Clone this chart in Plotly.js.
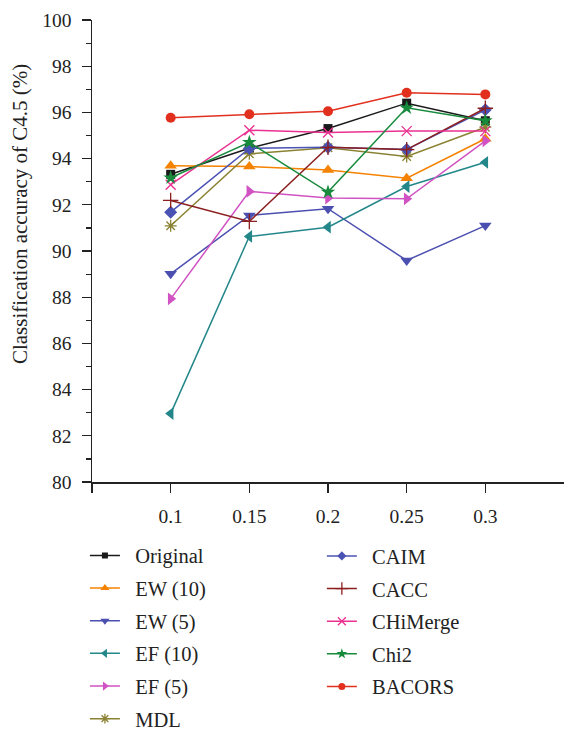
<!DOCTYPE html>
<html>
<head>
<meta charset="utf-8">
<script src="https://cdn.plot.ly/plotly-3.0.1.min.js"></script>
<style>html,body{margin:0;padding:0;background:#fff;}#chart{width:564px;height:733px;}</style>
</head>
<body>
<div id="chart"></div>
<script>
const thresholds = [0.1, 0.15, 0.2, 0.25, 0.3];
const seriesNames = ["Original", "EW (10)", "EW (5)", "EF (10)", "EF (5)", "MDL", "CAIM", "CACC", "CHiMerge", "Chi2", "BACORS"];
const original = [93.32, 94.45, 95.30, 96.40, 95.64];
const ew10 = [93.69, 93.66, 93.51, 93.15, 94.86];
const ew5 = [89.01, 91.54, 91.83, 89.59, 91.10];
const ef10 = [82.96, 90.63, 91.03, 92.79, 93.84];
const ef5 = [87.93, 92.58, 92.29, 92.26, 94.77];
const mdl = [91.09, 94.21, 94.47, 94.09, 95.36];
const caim = [91.68, 94.44, 94.49, 94.39, 96.11];
const cacc = [92.19, 91.28, 94.49, 94.39, 96.18];
const chimerge = [92.87, 95.23, 95.13, 95.19, 95.19];
const chi2 = [93.17, 94.70, 92.55, 96.20, 95.64];
const bacors = [95.77, 95.92, 96.05, 96.85, 96.78];
const yTickVals = [80, 82, 84, 86, 88, 90, 92, 94, 96, 98, 100];
const xTickVals = [0.05, 0.1, 0.15, 0.2, 0.25, 0.3];
const xTickText = ["", "0.1", "0.15", "0.2", "0.25", "0.3"];
const yTitle = "Classification accuracy of C4.5 (%)";

const allValues = [original, ew10, ew5, ef10, ef5, mdl, caim, cacc, chimerge, chi2, bacors];
const colors = ["#1a1a1a", "#f58200", "#4a4fb0", "#23878a", "#d152c2", "#8a8232", "#4a52b4", "#8b1e1e", "#ea3090", "#178a3c", "#e2301f"];
const symbols = ["square", "triangle-up", "triangle-down", "triangle-left", "triangle-right", "asterisk-open", "diamond", "cross-thin-open", "x-thin-open", "star", "circle"];
const sizes = [9, 11, 11, 11, 11, 10, 10, 11, 10, 11, 10];
const legendSizes = [6, 8, 8, 8, 8, 8, 7, 9, 8, 8, 7];

const font = "Liberation Serif, Times New Roman, serif";

function markerFor(i, size) {
  const open = symbols[i].indexOf("open") >= 0;
  return {symbol: symbols[i], size: size, color: colors[i], line: {color: colors[i], width: open ? 1.3 : 0}};
}

const dataTraces = seriesNames.map((name, i) => ({
  x: thresholds,
  y: allValues[i],
  name: name,
  type: "scatter",
  mode: "lines+markers",
  line: {color: colors[i], width: 1.5},
  marker: markerFor(i, sizes[i]),
  showlegend: false,
  legendgroup: "g" + i
}));

const legendTraces = seriesNames.map((name, i) => ({
  x: [null],
  y: [null],
  name: "\u00a0\u00a0" + name,
  type: "scatter",
  mode: "lines+markers",
  line: {color: colors[i], width: 1.5},
  marker: markerFor(i, legendSizes[i]),
  legend: i < 6 ? "legend" : "legend2",
  legendgroup: "g" + i,
  hoverinfo: "skip"
}));

const legendCommon = {
  orientation: "v",
  font: {family: font, size: 20.5, color: "#222"},
  bgcolor: "rgba(0,0,0,0)",
  tracegroupgap: 3,
  xanchor: "left",
  yanchor: "top"
};

const layout = {
  width: 564,
  height: 733,
  margin: {l: 92, r: 0, t: 20, b: 251, autoexpand: false},
  paper_bgcolor: "#fff",
  plot_bgcolor: "#fff",
  font: {family: font, color: "#222"},
  xaxis: {
    range: [0.05, 0.35],
    tickvals: xTickVals,
    ticktext: xTickText,
    ticks: "outside",
    ticklen: 9,
    tickwidth: 1.2,
    tickcolor: "#222",
    showline: true,
    linecolor: "#222",
    linewidth: 1.5,
    showgrid: false,
    zeroline: false,
    tickfont: {size: 19.5, color: "#222", family: font},
    ticklabelstandoff: 7
  },
  yaxis: {
    range: [80, 100],
    tickvals: yTickVals,
    ticks: "outside",
    ticklen: 9,
    tickwidth: 1.2,
    tickcolor: "#222",
    showline: true,
    linecolor: "#222",
    linewidth: 1.5,
    showgrid: false,
    zeroline: false,
    tickfont: {size: 19.5, color: "#222", family: font},
    ticklabelstandoff: 6,
    minor: {dtick: 1, ticks: "outside", ticklen: 5, tickwidth: 1.2, tickcolor: "#222", showgrid: false}
  },
  showlegend: true,
  legend: Object.assign({}, legendCommon, {x: -0.015, y: -0.116}),
  legend2: Object.assign({}, legendCommon, {x: 0.487, y: -0.117}),
  annotations: [{
    text: yTitle,
    xref: "paper", yref: "paper",
    x: -0.1525, y: 0.58,
    xanchor: "center", yanchor: "middle",
    textangle: -90,
    showarrow: false,
    font: {size: 21, color: "#222", family: font}
  }]
};

Plotly.newPlot("chart", dataTraces.concat(legendTraces), layout, {displayModeBar: false, staticPlot: true});
</script>
</body>
</html>
